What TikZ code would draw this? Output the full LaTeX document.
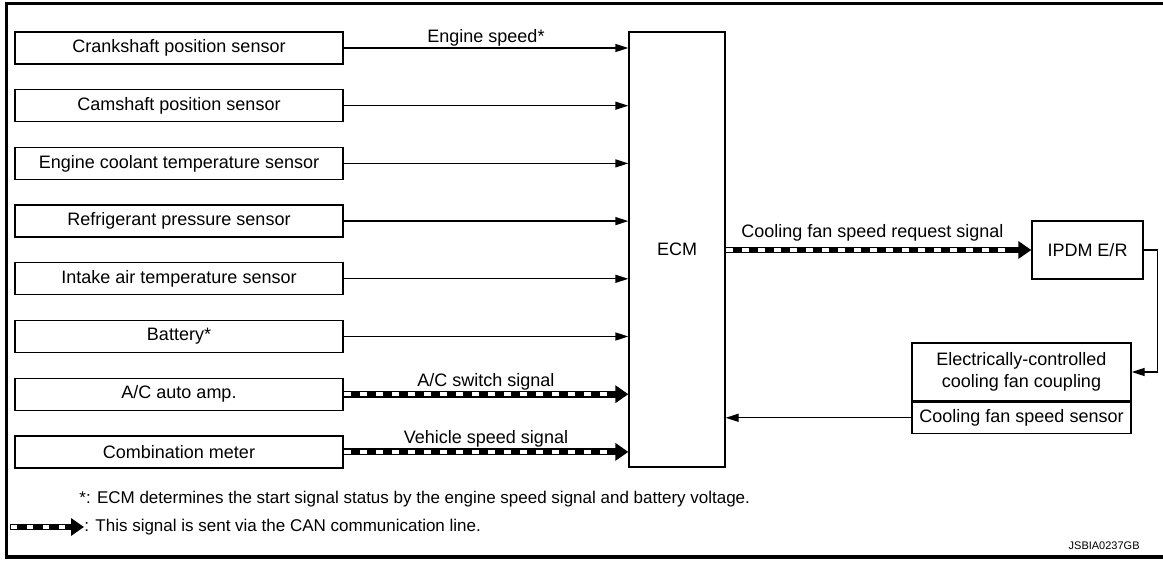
\documentclass[tikz,border=0pt]{standalone}
\usepackage{fontspec}
\setmainfont{Liberation Sans}
\usetikzlibrary{arrows.meta}
\usetikzlibrary{positioning}
\usetikzlibrary{decorations.markings}
\tikzset{
  txt/.style={font=\fontsize{9}{11}\selectfont},
  unitbox/.style={draw,line width=0.65pt,inner sep=0pt,align=center,txt},
  sensorbox/.style={unitbox,minimum width=164pt,minimum height=16pt},
  sig/.style={line width=0.65pt,-{Triangle[length=6.5pt,width=4pt]}},
  canline/.style={line width=3.4pt,-{Triangle[length=6.5pt,width=8.5pt]},
    postaction={decorate,decoration={markings,
      mark=between positions 2pt and -9pt step 8pt with
        {\fill [white] (-1.6pt,-0.85pt) rectangle (1.6pt,0.85pt);}}}},
  siglabel/.style={inner sep=0pt,txt},
  notetxt/.style={inner sep=0pt,font=\fontsize{8.5}{10}\selectfont}
}

\begin{document}
\begin{tikzpicture}[x=0.5pt,y=-0.5pt]
  \useasboundingbox (0,0) rectangle (1163,561);

  % frame
  \draw [line width=1.8pt] (1163,3.5) -- (6.5,3.5) -- (6.5,557) -- (1163,557);

  % sensors and switches
  \foreach \txt [count=\i] in {Crankshaft position sensor,Camshaft position sensor,%
    Engine coolant temperature sensor,Refrigerant pressure sensor,%
    Intake air temperature sensor,Battery*,{A/C auto amp.},Combination meter}{%
    \node [sensorbox] (sens\i) at (179,{48+57.7*(\i-1)}) {\txt};
  }

  \node [unitbox,minimum width=48pt,minimum height=217.5pt] (ecm) at (677,249.5) {ECM};
  \node [unitbox,minimum width=55.5pt,minimum height=29pt] (ipdm) at (1087.5,250) {IPDM E/R};
  \node [unitbox,minimum width=109.5pt,minimum height=29pt] (coupling) at (1021.5,372)
    {Electrically-controlled\\cooling fan coupling};
  \node [unitbox,minimum width=109.5pt,minimum height=15.5pt,anchor=north] (fansensor)
    at (coupling.south) {Cooling fan speed sensor};

  % inputs to ECM
  \draw [sig] (sens1.east) -- (sens1.east -| ecm.west)
    node [siglabel,midway,above=0.5pt] {Engine speed*};
  \foreach \i in {2,...,6}{%
    \draw [sig] (sens\i.east) -- (sens\i.east -| ecm.west);
  }
  \draw [canline] (sens7.east) -- (sens7.east -| ecm.west)
    node [siglabel,midway,above=0.5pt] {A/C switch signal};
  \draw [canline] (sens8.east) -- (sens8.east -| ecm.west)
    node [siglabel,midway,above=0.5pt] {Vehicle speed signal};

  % fan control loop
  \draw [canline] (ipdm.west -| ecm.east) -- (ipdm.west)
    node [siglabel,pos=0.48,above=2.5pt] {Cooling fan speed request signal};
  \draw [sig] (ipdm.east) -- ++(14,0) |- (coupling.east);
  \draw [sig] (fansensor.west) -- (fansensor.west -| ecm.east);

  % notes
  \node [notetxt,anchor=west] (note1) at (79,499)
    {*: ECM determines the start signal status by the engine speed signal and battery voltage.};
  \node [notetxt,anchor=west] (note2) at (84,527)
    {: This signal is sent via the CAN communication line.};
  \coordinate (canstart) at (10,527);
  \draw [canline] (canstart) -- (note2.west);
  \node [inner sep=0pt,anchor=east,font=\fontsize{5.5}{6}\selectfont] (figid) at (1140,546) {JSBIA0237GB};
\end{tikzpicture}
\end{document}
